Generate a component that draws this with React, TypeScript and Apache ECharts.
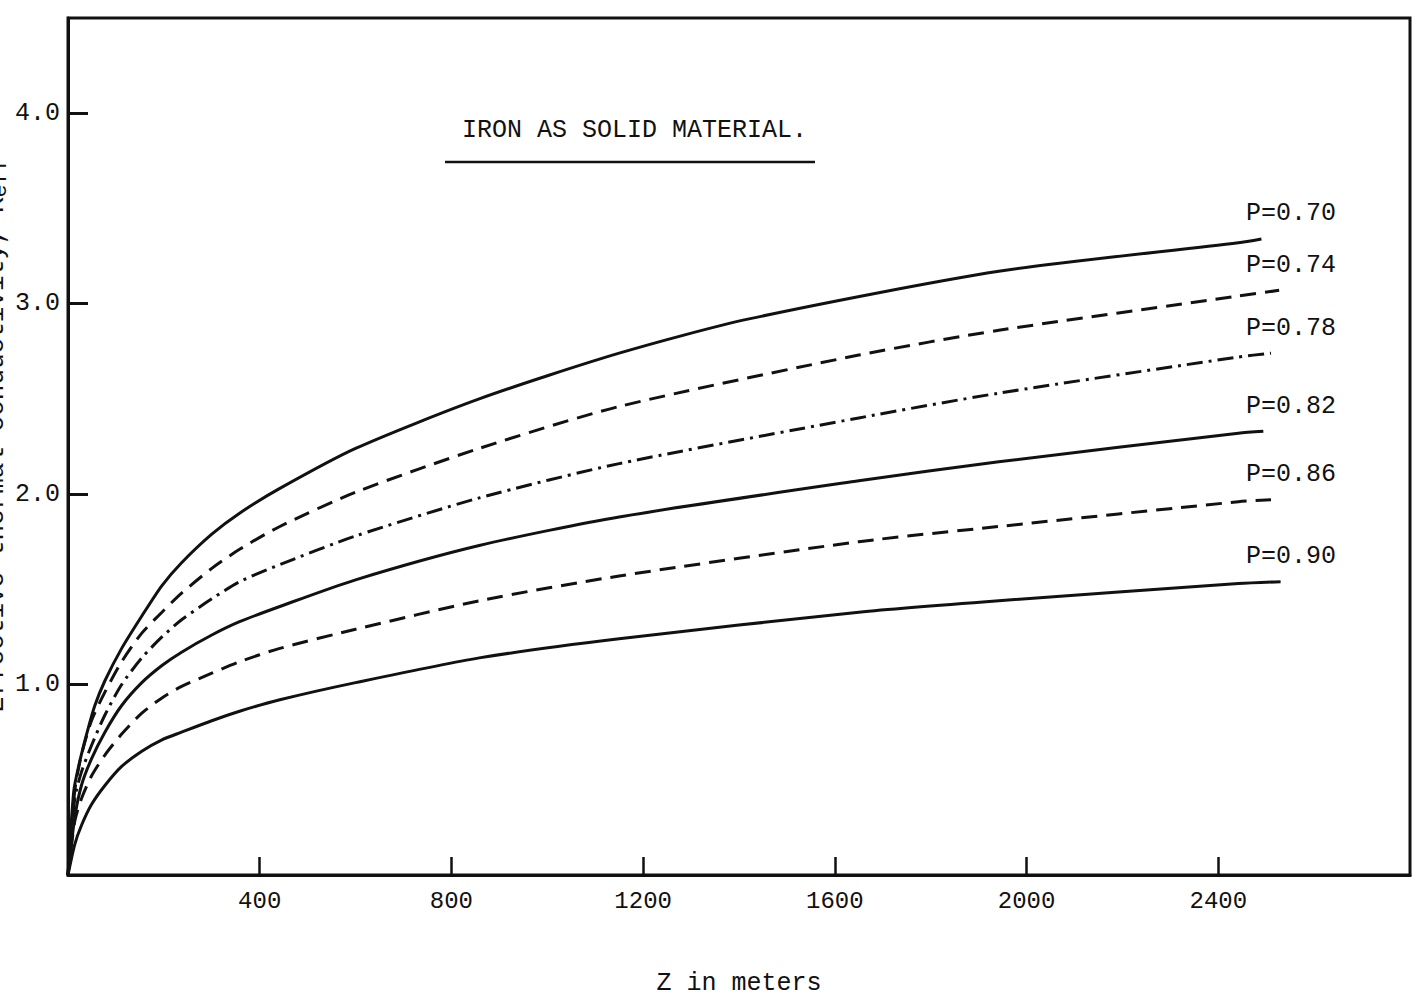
import React, { useEffect, useRef } from "react";
import * as echarts from "echarts";

// Depth Z (m) and effective thermal conductivity K_eff for each porosity P
const z70 = [0, 12, 23, 40, 56, 77, 112, 154, 196, 237, 300, 358, 442, 600, 858, 1150, 1421, 1942, 2442, 2490];
const k70 = [0, 0.44, 0.58, 0.75, 0.89, 1.02, 1.19, 1.36, 1.52, 1.64, 1.79, 1.90, 2.03, 2.24, 2.50, 2.74, 2.92, 3.17, 3.32, 3.34];

const z74 = [0, 14, 28, 49, 77, 112, 154, 196, 237, 300, 358, 442, 600, 858, 1150, 1650, 1942, 2442, 2527];
const k74 = [0, 0.44, 0.63, 0.81, 0.96, 1.12, 1.27, 1.38, 1.48, 1.61, 1.71, 1.83, 2.01, 2.24, 2.46, 2.73, 2.86, 3.04, 3.07];

const z78 = [0, 14, 28, 49, 77, 112, 154, 196, 237, 300, 358, 442, 600, 858, 1150, 1650, 1942, 2442, 2510];
const k78 = [0, 0.40, 0.54, 0.68, 0.84, 1.00, 1.14, 1.25, 1.34, 1.45, 1.54, 1.63, 1.78, 1.98, 2.16, 2.40, 2.53, 2.72, 2.74];

const z82 = [0, 14, 28, 49, 77, 112, 154, 196, 237, 300, 358, 442, 600, 858, 1150, 1650, 1942, 2442, 2494];
const k82 = [0, 0.30, 0.47, 0.61, 0.75, 0.89, 1.01, 1.10, 1.17, 1.26, 1.33, 1.41, 1.55, 1.73, 1.88, 2.07, 2.17, 2.32, 2.33];

const z86 = [0, 14, 28, 49, 77, 112, 154, 196, 237, 300, 358, 442, 600, 858, 1150, 1650, 1942, 2442, 2510];
const k86 = [0, 0.28, 0.40, 0.52, 0.63, 0.74, 0.85, 0.93, 0.99, 1.06, 1.12, 1.19, 1.29, 1.44, 1.57, 1.75, 1.83, 1.96, 1.97];

const z90 = [0, 14, 28, 49, 77, 112, 154, 196, 237, 300, 358, 442, 600, 858, 1150, 1650, 1942, 2442, 2530];
const k90 = [0, 0.16, 0.26, 0.37, 0.47, 0.57, 0.65, 0.71, 0.75, 0.81, 0.86, 0.92, 1.01, 1.14, 1.24, 1.38, 1.44, 1.53, 1.54];

const curveNames = ["P=0.70", "P=0.74", "P=0.78", "P=0.82", "P=0.86", "P=0.90"];
const curveZ = [z70, z74, z78, z82, z86, z90];
const curveK = [k70, k74, k78, k82, k86, k90];
const curveDash: (string | number[])[] = ["solid", [16, 9], [16, 6, 3, 6], "solid", [16, 9], "solid"];

const xTicks = [400, 800, 1200, 1600, 2000, 2400];
const yTicks = [1, 2, 3, 4];

const FONT = "'Liberation Mono', 'DejaVu Sans Mono', monospace";
const INK = "#111";

export default function App() {
  const ref = useRef<HTMLDivElement>(null);

  useEffect(() => {
    if (!ref.current) return;
    const chart = echarts.init(ref.current, undefined, { renderer: "svg" });

    const series = curveNames.map((name, i) => ({
      name,
      type: "line",
      data: curveZ[i].map((z, j) => [z, curveK[i][j]]),
      showSymbol: false,
      smooth: 0.25,
      lineStyle: { color: INK, width: 3, type: curveDash[i] },
      silent: true,
    }));

    chart.setOption({
      animation: false,
      backgroundColor: "#fff",
      grid: {
        left: 68,
        right: 8,
        top: 18,
        bottom: 124,
        show: true,
        borderColor: INK,
        borderWidth: 3,
        backgroundColor: "transparent",
      },
      xAxis: {
        type: "value",
        min: 0,
        max: 2800,
        interval: 400,
        name: "Z in meters",
        nameLocation: "middle",
        nameGap: 96,
        nameTextStyle: { fontFamily: FONT, fontSize: 25, color: INK },
        axisLine: { show: true, lineStyle: { color: INK, width: 3 } },
        axisTick: {
          show: true,
          inside: true,
          length: 18,
          lineStyle: { color: INK, width: 2.5 },
          customValues: xTicks,
        },
        axisLabel: {
          fontFamily: FONT,
          fontSize: 24,
          color: INK,
          margin: 14,
          customValues: xTicks,
          formatter: (v: number) => String(v),
        },
        splitLine: { show: false },
      },
      yAxis: {
        type: "value",
        min: 0,
        max: 4.5,
        interval: 1,
        axisLine: { show: true, lineStyle: { color: INK, width: 3 } },
        axisTick: {
          show: true,
          inside: true,
          length: 20,
          lineStyle: { color: INK, width: 3 },
          customValues: yTicks,
        },
        axisLabel: {
          fontFamily: FONT,
          fontSize: 25,
          color: INK,
          margin: 8,
          customValues: yTicks,
          formatter: (v: number) => v.toFixed(1),
        },
        splitLine: { show: false },
      },
      series,
    });

    // Curve labels sit above the end of each curve, right-aligned in a column
    const labels = curveNames.map((name, i) => {
      const n = curveZ[i].length - 1;
      const p = chart.convertToPixel({ gridIndex: 0 }, [curveZ[i][n], curveK[i][n]]) as number[];
      return {
        type: "text",
        x: 1336,
        y: p[1] - 25,
        style: {
          text: name,
          fontFamily: FONT,
          fontSize: 25,
          fill: INK,
          align: "right",
          verticalAlign: "middle",
        },
        silent: true,
      };
    });

    chart.setOption({
      graphic: [
        {
          type: "text",
          left: 462,
          top: 118,
          style: {
            text: "IRON AS SOLID MATERIAL.",
            fontFamily: FONT,
            fontSize: 25,
            fill: INK,
          },
        },
        {
          type: "line",
          shape: { x1: 445, y1: 162, x2: 815, y2: 162 },
          style: { stroke: INK, lineWidth: 2.5 },
        },
        {
          type: "text",
          x: 11,
          y: 435,
          rotation: Math.PI / 2,
          style: {
            text: "Effective thermal conductivity, K{sub|eff}",
            fontFamily: FONT,
            fontSize: 26,
            fill: INK,
            align: "center",
            verticalAlign: "bottom",
            rich: {
              sub: { fontFamily: FONT, fontSize: 22, fill: INK, padding: [8, 0, 0, 0] },
            },
          },
        },
        ...labels,
      ],
    });

    return () => chart.dispose();
  }, []);

  return (
    <div
      ref={ref}
      style={{ position: "fixed", left: 0, top: 0, width: 1418, height: 1001, background: "#fff" }}
    />
  );
}
